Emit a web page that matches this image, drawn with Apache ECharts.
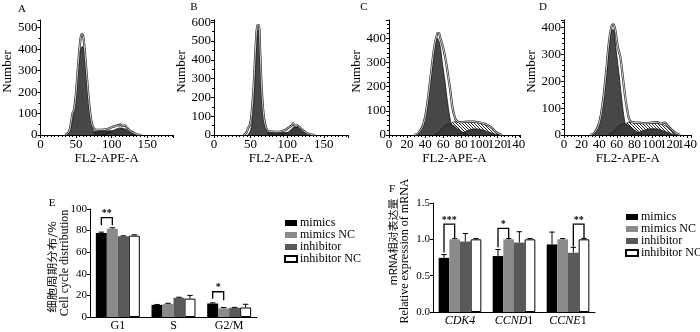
<!DOCTYPE html>
<html>
<head>
<meta charset="utf-8">
<script src="https://cdn.jsdelivr.net/npm/echarts@6/dist/echarts.min.js"></script>
<style>
  html, body { margin: 0; background: #fff; }
  #main { width: 700px; height: 332px; }
</style>
</head>
<body>
<div id="main"></div>
<script>
// flow cytometry traces, [FL2-APE-A, count]
const aRaw = [[35,0],[40,15],[43,60],[45,100],[47,115],[50,200],[53,330],[56,440],[58,470],[60,460],[62,400],[65,280],[68,160],[71,75],[74,35],[77,26],[82,24],[88,25],[94,28],[100,36],[105,42],[108,46],[110,44],[112,50],[115,42],[118,45],[122,32],[128,15],[134,5],[140,0]];
const aG1 = [[36,0],[42,25],[47,110],[51,230],[54,340],[57,405],[59,412],[62,370],[65,260],[68,150],[71,65],[74,20],[78,0]];
const aS = [[60,0],[68,12],[78,18],[90,20],[100,20],[110,15],[120,6],[130,0]];
const aG2 = [[88,0],[95,8],[102,20],[108,30],[112,33],[116,31],[122,22],[128,10],[135,3],[142,0]];

const bRaw = [[40,0],[44,12],[47,40],[49,55],[51,100],[54,250],[57,480],[59,580],[61,585],[63,450],[65,260],[68,100],[71,40],[74,22],[80,18],[86,17],[92,20],[98,28],[103,42],[106,50],[108,62],[110,48],[113,52],[116,44],[120,30],[126,12],[132,4],[138,0]];
const bG1 = [[46,0],[50,25],[53,110],[56,300],[58,470],[60,560],[62,490],[64,330],[66,180],[69,70],[72,18],[75,0]];
const bS = [[58,0],[66,10],[78,14],[92,15],[104,12],[116,6],[128,0]];
const bG2 = [[92,0],[100,12],[106,32],[110,42],[114,42],[118,32],[124,15],[130,5],[136,0]];

const cRaw = [[28,0],[33,10],[38,45],[42,120],[46,240],[50,360],[53,415],[55,422],[57,400],[60,360],[63,305],[66,230],[68,180],[70,120],[72,85],[75,58],[80,53],[88,55],[94,55],[100,52],[106,46],[112,35],[116,20],[120,8],[125,0]];
const cG1 = [[28,0],[33,8],[38,40],[42,110],[46,220],[50,340],[53,403],[56,380],[59,300],[62,220],[65,130],[68,60],[71,20],[75,0]];
const cS = [[62,0],[68,40],[72,55],[78,52],[86,52],[94,53],[100,50],[106,45],[112,35],[116,20],[120,5],[124,0]];
const cAgg = [[50,0],[56,15],[61,35],[66,45],[71,40],[76,25],[82,10],[88,0]];
const cG2 = [[76,0],[82,10],[88,20],[94,25],[100,24],[106,18],[112,10],[118,3],[125,0]];

const dRaw = [[30,0],[35,10],[40,45],[44,120],[48,240],[51,345],[54,405],[56,412],[58,395],[61,330],[64,290],[67,210],[70,130],[72,90],[74,60],[77,48],[84,46],[92,44],[100,46],[106,48],[110,42],[114,46],[118,34],[122,20],[127,8],[132,0]];
const dG1 = [[30,0],[35,8],[40,40],[44,110],[48,220],[51,320],[54,390],[56,392],[59,320],[62,240],[65,150],[68,70],[71,22],[74,0]];
const dS = [[64,0],[70,40],[74,48],[80,46],[88,44],[96,43],[104,44],[110,42],[116,32],[122,15],[128,3],[131,0]];
const dAgg = [[50,0],[56,12],[62,32],[67,41],[72,38],[78,24],[84,10],[90,0]];
const dG2 = [[78,0],[85,10],[92,19],[98,23],[104,23],[110,19],[116,12],[122,5],[128,0]];

// bar panels
const groups = ['mimics', 'mimics NC', 'inhibitor', 'inhibitor NC'];
const phases = ['G1', 'S', 'G2/M'];
const eMimics = [77.8, 11.2, 12.5];
const eMimicsNC = [81.8, 12.0, 8.0];
const eInhib = [74.8, 17.8, 8.5];
const eInhibNC = [75.3, 17.0, 8.8];
const eMimicsErr = [0.8, 0.4, 0.6];
const eMimicsNCErr = [0.8, 0.7, 0.8];
const eInhibErr = [0.4, 0.5, 0.4];
const eInhibNCErr = [0.8, 3.0, 3.0];
// [category, bar from, bar to, top, left leg end, right leg end]
const eBrackets = [[0, 0, 1, 92, 85, 85], [2, 0, 1, 23.4, 17, 15.5]];
const eStars = ['**', '*'];

const genes = ['CDK4', 'CCND1', 'CCNE1'];
const fMimics = [0.745, 0.77, 0.93];
const fMimicsNC = [1, 1, 1];
const fInhib = [0.97, 0.955, 0.815];
const fInhibNC = [1, 1, 1];
const fMimicsErr = [0.045, 0.09, 0.17];
const fMimicsNCErr = [0.01, 0.01, 0.01];
const fInhibErr = [0.11, 0.15, 0.075];
const fInhibNCErr = [0.01, 0.01, 0.01];
const fBrackets = [[0, 0, 1, 1.21, 0.82, 1.02], [1, 0, 1, 1.15, 0.89, 1.02], [2, 2, 3, 1.21, 0.9, 1.02]];
const fStars = ['***', '*', '**'];

const serif = "'Liberation Serif', 'DejaVu Serif', serif";
const cjk = "'Noto Sans CJK SC'";
const barColors = ['#000000', '#8a8a8a', '#595959', '#ffffff'];
const catGap = 0.21;

// diagonal hatch for the S phase area
const hatch = document.createElement('canvas');
hatch.width = 3; hatch.height = 3;
const hc = hatch.getContext('2d');
hc.fillStyle = '#fff';
hc.fillRect(0, 0, 3, 3);
hc.strokeStyle = '#111';
hc.lineWidth = 0.9;
hc.beginPath(); hc.moveTo(-1, -1); hc.lineTo(4, 4); hc.stroke();

const grids = [];
const xAxes = [];
const yAxes = [];
const series = [];

const blackLine = { lineStyle: { color: '#000', width: 1 } };

function histPanel(idx, left, width, xMax, xInt, xMinor, yMax, yMinor, tr) {
  grids.push({ left: left, top: 20, width: width, height: 115 });
  xAxes.push({
    gridIndex: idx, type: 'value', min: 0, max: xMax, interval: xInt,
    axisLine: blackLine, axisTick: { length: 3, lineStyle: { color: '#000' } },
    minorTick: { show: true, splitNumber: xMinor, length: 2, lineStyle: { color: '#000' } },
    splitLine: { show: false },
    axisLabel: { color: '#000', fontSize: 13, fontFamily: serif, margin: 3,
      formatter: (v) => (v % xInt === 0 ? v : '') },
    name: 'FL2-APE-A', nameLocation: 'middle', nameGap: 15,
    nameTextStyle: { color: '#000', fontSize: 13, fontFamily: serif }
  });
  yAxes.push({
    gridIndex: idx, type: 'value', min: 0, max: yMax, interval: 100,
    axisLine: { show: true, lineStyle: { color: '#000', width: 1 } },
    axisTick: { show: true, length: 3, lineStyle: { color: '#000' } },
    minorTick: { show: true, splitNumber: yMinor, length: 2, lineStyle: { color: '#000' } },
    splitLine: { show: false },
    axisLabel: { color: '#000', fontSize: 13, fontFamily: serif, margin: 3,
      formatter: (v) => (v % 100 === 0 ? v : '') },
    name: 'Number', nameLocation: 'middle', nameGap: 26,
    nameTextStyle: { color: '#000', fontSize: 13, fontFamily: serif, padding: [0, 0, 0, 12] }
  });
  const base = { type: 'line', xAxisIndex: idx, yAxisIndex: idx, smooth: 0.4,
    showSymbol: false, symbol: 'none', silent: true };
  series.push(Object.assign({}, base, { data: tr.s,
    areaStyle: { color: tr.hatched ? { image: hatch, repeat: 'repeat' } : '#2e2e2e', opacity: 1 },
    lineStyle: { color: '#111', width: 0.7 }, z: 1 }));
  series.push(Object.assign({}, base, { data: tr.g1,
    areaStyle: { color: '#474747', opacity: 1 }, lineStyle: { color: '#111', width: 0.8 }, z: 2 }));
  if (tr.agg) {
    series.push(Object.assign({}, base, { data: tr.agg,
      areaStyle: { color: '#3a3a3a', opacity: 1 }, lineStyle: { color: '#111', width: 0.7 }, z: 3 }));
  }
  series.push(Object.assign({}, base, { data: tr.g2,
    areaStyle: { color: '#3a3a3a', opacity: 1 }, lineStyle: { color: '#111', width: 0.7 }, z: 3 }));
  series.push(Object.assign({}, base, { data: tr.raw,
    lineStyle: { color: '#222', width: 2.2 }, z: 4 }));
  series.push(Object.assign({}, base, { data: tr.raw,
    lineStyle: { color: '#fff', width: 0.8 }, z: 5 }));
}

histPanel(0, 39, 134, 186, 50, 10, 536, 2, { raw: aRaw, g1: aG1, s: aS, g2: aG2 });
histPanel(1, 214, 134, 183, 50, 10, 612, 2, { raw: bRaw, g1: bG1, s: bS, g2: bG2 });
histPanel(2, 389, 131, 145, 20, 5, 476, 5, { raw: cRaw, g1: cG1, s: cS, agg: cAgg, g2: cG2, hatched: true });
histPanel(3, 564, 133, 145, 20, 5, 428, 5, { raw: dRaw, g1: dG1, s: dS, agg: dAgg, g2: dG2, hatched: true });

function errRender(barIdx) {
  return function (params, api) {
    const cat = api.value(0), top = api.value(1), err = api.value(2);
    const band = api.size([1, 0])[0];
    const bw = band * (1 - catGap) / 4;
    const p0 = api.coord([cat, top]);
    const p1 = api.coord([cat, top + err]);
    const x = p0[0] + (barIdx - 1.5) * bw;
    const cap = bw * 0.25;
    const st = { stroke: '#000', lineWidth: 1 };
    return { type: 'group', children: [
      { type: 'line', shape: { x1: x, y1: p0[1], x2: x, y2: p1[1] }, style: st },
      { type: 'line', shape: { x1: x - cap, y1: p1[1], x2: x + cap, y2: p1[1] }, style: st }
    ] };
  };
}

function bracketRender(stars) {
  return function (params, api) {
    const cat = api.value(0), i = api.value(1), j = api.value(2);
    const band = api.size([1, 0])[0];
    const bw = band * (1 - catGap) / 4;
    const c = api.coord([cat, api.value(3)]);
    const xi = c[0] + (i - 1.5) * bw, xj = c[0] + (j - 1.5) * bw;
    const yl = api.coord([cat, api.value(4)])[1];
    const yr = api.coord([cat, api.value(5)])[1];
    return { type: 'group', children: [
      { type: 'polyline', shape: { points: [[xi, yl], [xi, c[1]], [xj, c[1]], [xj, yr]] },
        style: { stroke: '#000', fill: null, lineWidth: 1.3 } },
      { type: 'text', style: { text: stars[params.dataIndex], x: (xi + xj) / 2, y: c[1] + 1,
        align: 'center', verticalAlign: 'bottom', font: 'bold 10px ' + serif, fill: '#000' } }
    ] };
  };
}

function barPanel(idx, left, top, width, height, cats, yMax, yInt, yFmt, vals, errs, brackets, stars, catLabel) {
  grids.push({ left: left, top: top, width: width, height: height });
  xAxes.push({
    gridIndex: idx, type: 'category', data: cats,
    axisLine: blackLine, axisTick: { alignWithLabel: true, length: 3, lineStyle: { color: '#000' } },
    axisLabel: Object.assign({ color: '#000', fontSize: 12, fontFamily: serif, margin: 3, interval: 0 }, catLabel)
  });
  yAxes.push({
    gridIndex: idx, type: 'value', min: 0, max: yMax, interval: yInt,
    axisLine: { show: true, lineStyle: { color: '#000', width: 1 } },
    axisTick: { show: true, length: 3, lineStyle: { color: '#000' } },
    splitLine: { show: false },
    axisLabel: { color: '#000', fontSize: 11, fontFamily: serif, margin: 3, formatter: yFmt }
  });
  groups.forEach((g, k) => {
    series.push({
      type: 'bar', name: g, xAxisIndex: idx, yAxisIndex: idx, data: vals[k],
      barGap: '0%', barCategoryGap: (catGap * 100) + '%',
      itemStyle: { color: barColors[k], borderColor: k === 3 ? '#000' : barColors[k], borderWidth: k === 3 ? 1 : 0 },
      z: 2
    });
  });
  groups.forEach((g, k) => {
    series.push({
      type: 'custom', xAxisIndex: idx, yAxisIndex: idx, renderItem: errRender(k),
      data: vals[k].map((v, c) => [c, v, errs[k][c]]), encode: { x: 0, y: 1 }, z: 3, silent: true
    });
  });
  series.push({
    type: 'custom', xAxisIndex: idx, yAxisIndex: idx, renderItem: bracketRender(stars),
    data: brackets, encode: { x: 0, y: 3 }, z: 4, silent: true
  });
}

barPanel(4, 90, 209, 167, 110, phases, 100, 20, (v) => v,
  [eMimics, eMimicsNC, eInhib, eInhibNC], [eMimicsErr, eMimicsNCErr, eInhibErr, eInhibNCErr],
  eBrackets, eStars, {});
barPanel(5, 433, 203, 162, 109, genes, 1.5, 0.5, (v) => v.toFixed(1),
  [fMimics, fMimicsNC, fInhib, fInhibNC], [fMimicsErr, fMimicsNCErr, fInhibErr, fInhibNCErr],
  fBrackets, fStars, {
    formatter: (v) => (v === 'CDK4' ? '{i|CDK4}' : '{i|' + v.slice(0, -1) + '}' + v.slice(-1)),
    rich: { i: { fontStyle: 'italic', fontSize: 12, fontFamily: serif, color: '#000' } }
  });

const legendBase = {
  orient: 'vertical', itemWidth: 12, itemHeight: 6, itemGap: 0, icon: 'rect',
  textStyle: { color: '#000', fontSize: 12, fontFamily: serif, lineHeight: 11.3, padding: [0, 0, 0, -2] },
  data: groups
};

const letter = (t, x, y) => ({ type: 'text', x: x, y: y,
  style: { text: t, font: '11px ' + serif, fill: '#000', align: 'center', verticalAlign: 'middle' } });
const vText = (t, x, y, f, stretch) => ({ type: 'text', x: x, y: y, rotation: Math.PI / 2,
  scaleX: stretch || 1,
  style: { text: t, font: f, fill: '#000', align: 'center', verticalAlign: 'middle' } });

const chart = echarts.init(document.getElementById('main'), null, { renderer: 'canvas' });
chart.setOption({
  backgroundColor: '#fff',
  animation: false,
  grid: grids,
  xAxis: xAxes,
  yAxis: yAxes,
  legend: [
    Object.assign({ left: 279, top: 212 }, legendBase),
    Object.assign({ left: 620, top: 206 }, legendBase)
  ],
  graphic: [
    letter('A', 22, 9), letter('B', 194, 7), letter('C', 364, 7), letter('D', 543, 7),
    letter('E', 52, 203), letter('F', 392, 189),
    vText('细胞周期分布/%', 52, 267, '10px ' + cjk, 1.25),
    vText('Cell cycle distribution', 65, 263, '12px ' + serif),
    vText('mRNA相对表达量', 393, 242, '10px ' + cjk, 1.1),
    vText('Relative expression of mRNA', 405, 251, '12px ' + serif)
  ],
  series: series
});
</script>
</body>
</html>
